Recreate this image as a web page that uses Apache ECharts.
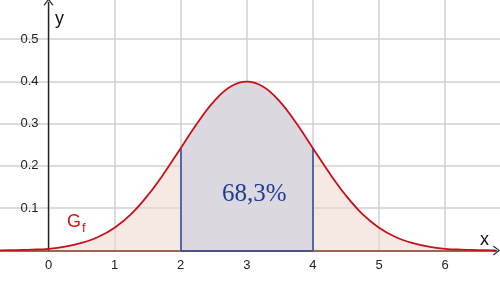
<!DOCTYPE html>
<html>
<head>
<meta charset="utf-8">
<script src="https://cdn.jsdelivr.net/npm/echarts@6/dist/echarts.min.js"></script>
<style>html,body{margin:0;padding:0;background:#fff}#c{width:500px;height:299px}</style>
</head>
<body>
<div id="c"></div>
<script>
// Curve (x, y)
var xs = [-0.75,-0.5,-0.25,0,0.25,0.5,0.75,1,1.25,1.5,1.75,2,2.25,2.5,2.75,3,3.25,3.5,3.75,4,4.25,4.5,4.75,5,5.25,5.5,5.75,6,6.25,6.5,6.75];
var ys = [0.000,0.001,0.002,0.004,0.009,0.018,0.032,0.054,0.086,0.130,0.183,0.242,0.301,0.352,0.387,0.399,0.387,0.352,0.301,0.242,0.183,0.130,0.086,0.054,0.032,0.018,0.009,0.004,0.002,0.001,0.000];
var xTicks = [0,1,2,3,4,5,6];
var yTicks = [0.1,0.2,0.3,0.4,0.5];
var bandFrom = 2, bandTo = 4;
var bandLabel = '68,3%';
var xMinVisible = -0.734, xArrowEnd = 6.78, yArrowEnd = 0.5875;

var curve = xs.map(function(x,i){return [x, ys[i]];});
var band = curve.filter(function(p){return p[0] >= bandFrom && p[0] <= bandTo;});
function yAt(x){ return ys[xs.indexOf(x)]; }

var chevron = 'path://M0,10 L5,0 L10,10 L8.8,10.6 L5,2.6 L1.2,10.6 Z';

var chart = echarts.init(document.getElementById('c'), null, {renderer:'canvas'});
chart.setOption({
  animation: false,
  grid: {left: -17.6, right: -11.2, top: -3.3, bottom: 48.5, containLabel: false, outerBoundsMode: 'none'},
  xAxis: {
    type: 'value', min: -1, max: 7, interval: 1,
    axisLine: {show: false}, axisTick: {show: false},
    axisLabel: {margin: 8, color: '#222', fontFamily: 'Liberation Sans', fontSize: 13,
      formatter: function(v){ return xTicks.indexOf(v) >= 0 ? String(v) : ''; }},
    splitLine: {show: true, lineStyle: {color: '#d0d0d0', width: 1.5}}
  },
  yAxis: {
    type: 'value', min: 0, max: 0.6, interval: 0.1, offset: -66.1,
    axisLine: {show: false}, axisTick: {show: false},
    axisLabel: {margin: 10, color: '#222', fontFamily: 'Liberation Sans', fontSize: 13,
      formatter: function(v){ var r = Math.round(v*10)/10; return yTicks.indexOf(r) >= 0 ? r.toFixed(1) : ''; }},
    splitLine: {show: true, lineStyle: {color: '#d0d0d0', width: 1.5}}
  },
  series: [
    {type: 'line', data: curve, smooth: 0.4, symbol: 'none', z: 2,
     lineStyle: {width: 0, color: 'transparent'},
     areaStyle: {color: 'rgba(238,214,202,0.55)', opacity: 1}},
    {type: 'line', data: band, smooth: 0.4, symbol: 'none', z: 3,
     lineStyle: {width: 0, color: 'transparent'},
     areaStyle: {color: '#dcd8e0', opacity: 1}},
    {type: 'line', data: [], z: 4, symbol: 'none',
     markLine: {silent: true, symbol: ['none','none'], label: {show: false},
       lineStyle: {color: '#8a3f25', width: 1.6, type: 'solid'},
       data: [[{coord: [xMinVisible, 0]}, {coord: [xArrowEnd, 0]}]]}},
    {type: 'line', data: [], z: 5, symbol: 'none',
     markLine: {silent: true, symbol: ['none','none'], label: {show: false},
       lineStyle: {color: '#2f4c9c', width: 1.6, type: 'solid'},
       data: [
         [{coord: [bandFrom, 0]}, {coord: [bandFrom, yAt(bandFrom)]}],
         [{coord: [bandTo, 0]}, {coord: [bandTo, yAt(bandTo)]}],
         [{coord: [bandFrom, 0]}, {coord: [bandTo, 0]}]
       ]}},
    {type: 'line', data: curve, smooth: 0.4, symbol: 'none', z: 6,
     lineStyle: {color: '#c8101a', width: 1.8}},
    {type: 'line', data: [], z: 7, symbol: 'none',
     markLine: {silent: true, symbol: ['none', chevron], symbolSize: [10, 7], label: {show: false},
       lineStyle: {color: '#222', width: 1.4, type: 'solid'},
       data: [
         [{coord: [0, 0]}, {coord: [0, yArrowEnd]}],
         [{coord: [xArrowEnd - 0.05, 0]}, {coord: [xArrowEnd, 0]}]
       ]}}
  ],
  graphic: [
    {type: 'text', z: 100, left: 55, top: 10, style: {text: 'y', font: '18px "Liberation Sans"', fill: '#111'}},
    {type: 'text', z: 100, left: 480, top: 231, style: {text: 'x', font: '18px "Liberation Sans"', fill: '#111'}},
    {type: 'text', z: 100, left: 67, top: 213, style: {
      text: '{g|G}{f|f}', rich: {
        g: {fontSize: 18, fontFamily: 'Liberation Sans', fill: '#cc1818', color: '#cc1818'},
        f: {fontSize: 13, fontFamily: 'Liberation Sans', fill: '#cc1818', color: '#cc1818', padding: [12,0,0,1]}
      }}},
    {type: 'text', z: 100, left: 222, top: 182, style: {text: bandLabel, font: '25px "Liberation Serif"', fill: '#1f3c95'}}
  ]
});
</script>
</body>
</html>
